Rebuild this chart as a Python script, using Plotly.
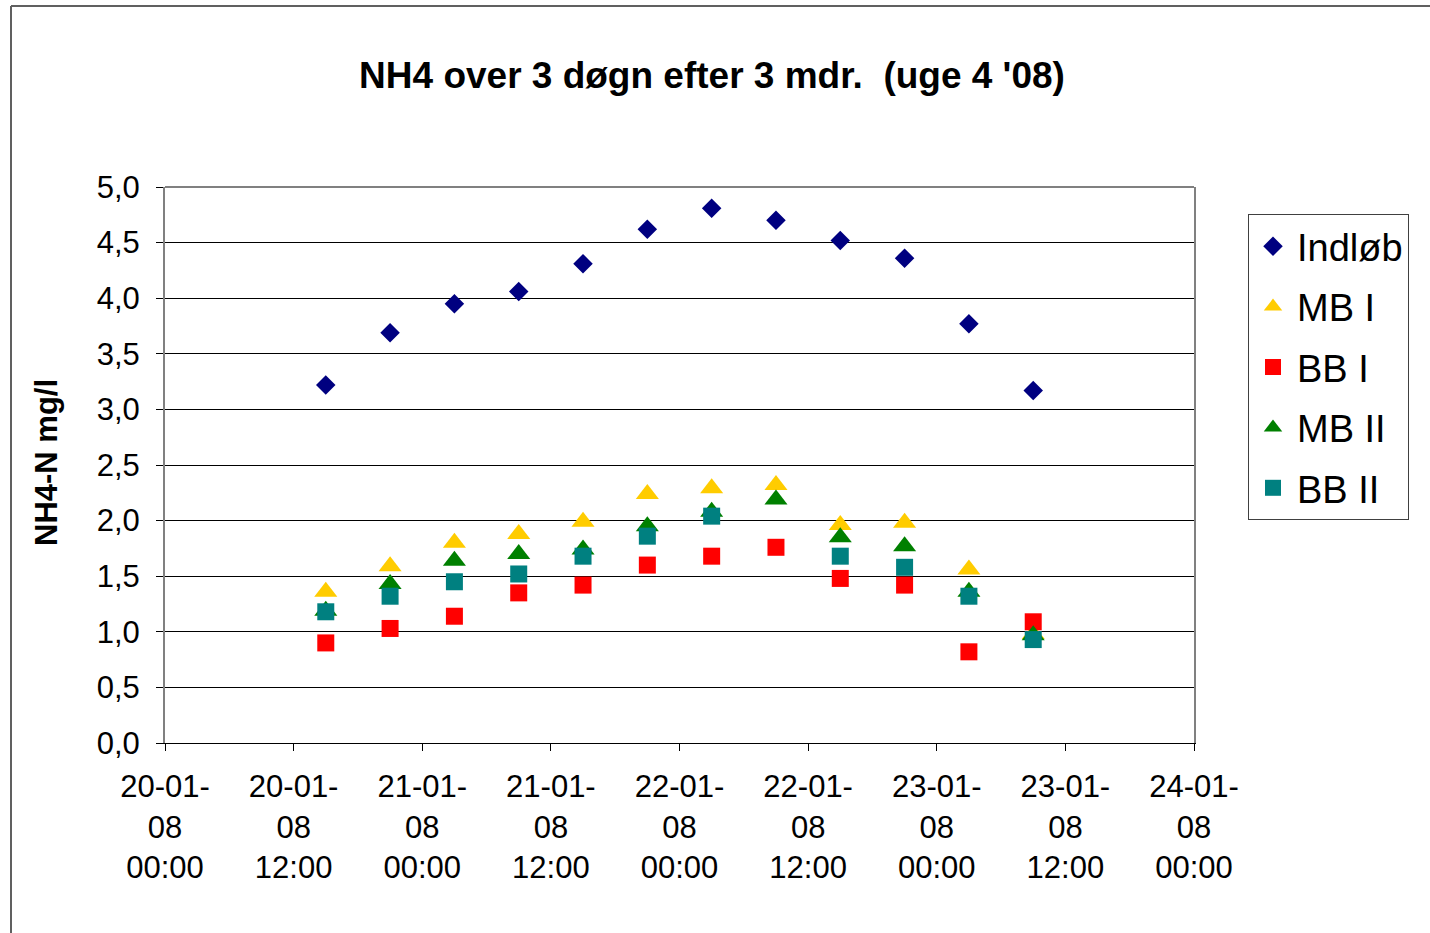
import plotly.graph_objects as go

times = ["2008-01-20 15:00", "2008-01-20 21:00", "2008-01-21 03:00", "2008-01-21 09:00",
         "2008-01-21 15:00", "2008-01-21 21:00", "2008-01-22 03:00", "2008-01-22 09:00",
         "2008-01-22 15:00", "2008-01-22 21:00", "2008-01-23 03:00", "2008-01-23 09:00"]

indlob = [3.22, 3.69, 3.95, 4.06, 4.31, 4.62, 4.81, 4.70, 4.52, 4.36, 3.77, 3.17]
mb1 = [1.36, 1.59, 1.80, 1.88, 1.99, 2.24, 2.29, 2.32, 1.96, 1.98, 1.56, 0.98]
bb1 = [0.90, 1.03, 1.14, 1.35, 1.42, 1.60, 1.68, 1.76, 1.48, 1.42, 0.82, 1.09]
mb2 = [1.19, 1.43, 1.64, 1.70, 1.74, 1.95, 2.08, 2.19, 1.85, 1.77, 1.36, 0.97]
bb2 = [1.18, 1.32, 1.45, 1.52, 1.68, 1.86, 2.04, None, 1.68, 1.58, 1.32, 0.93]

tick_vals = ["2008-01-20 00:00", "2008-01-20 12:00", "2008-01-21 00:00", "2008-01-21 12:00",
             "2008-01-22 00:00", "2008-01-22 12:00", "2008-01-23 00:00", "2008-01-23 12:00",
             "2008-01-24 00:00"]
tick_text = ["20-01-<br>08<br>00:00", "20-01-<br>08<br>12:00", "21-01-<br>08<br>00:00",
             "21-01-<br>08<br>12:00", "22-01-<br>08<br>00:00", "22-01-<br>08<br>12:00",
             "23-01-<br>08<br>00:00", "23-01-<br>08<br>12:00", "24-01-<br>08<br>00:00"]

series = [
    ("Indløb", indlob, "diamond", "#000080", 15),
    ("MB I", mb1, "triangle-up", "#FFCC00", 20),
    ("BB I", bb1, "square", "#FF0000", 17),
    ("MB II", mb2, "triangle-up", "#008000", 20),
    ("BB II", bb2, "square", "#008080", 17),
]

FONT = "Liberation Sans, Arial, sans-serif"

fig = go.Figure()
for i, (name, vals, sym, col, sz) in enumerate(series):
    fig.add_trace(go.Scatter(
        x=times, y=vals, mode="markers", name=name, legendgroup=str(i),
        marker=dict(symbol=sym, color=col, size=sz, line=dict(width=0)),
    ))

W, H = 1430, 933
L, R, T, B = 165, 1194, 187, 743
pw, ph = R - L, B - T

def px(x):
    return (x - L) / pw

def py(y):
    return (B - y) / ph

fig.update_layout(
    width=W, height=H,
    margin=dict(l=L, r=W - R, t=T, b=H - B),
    paper_bgcolor="white", plot_bgcolor="white",
    separators=",.",
    font=dict(family=FONT, color="black"),
    title=dict(text="<b>NH4 over 3 døgn efter 3 mdr. \u00a0(uge 4 '08)</b>",
               x=px(712), xref="paper", xanchor="center",
               y=1 - 75 / H, yref="container", yanchor="middle",
               font=dict(size=37, family=FONT, color="black")),
    legend=dict(x=px(1248), y=py(214), xanchor="left", yanchor="top",
                bordercolor="#404040", borderwidth=1, bgcolor="white",
                font=dict(size=38, family=FONT, color="black"),
                traceorder="grouped", tracegroupgap=8,
                itemwidth=38),
    showlegend=True,
)

fig.update_xaxes(
    type="date", range=["2008-01-20 00:00", "2008-01-24 00:00"],
    tickmode="array", tickvals=tick_vals, ticktext=tick_text,
    showgrid=False, zeroline=False,
    showline=True, linecolor="black", linewidth=1,
    ticks="outside", ticklen=7, tickcolor="black", tickwidth=1,
    ticklabelstandoff=9,
    tickfont=dict(size=31, family=FONT, color="black"),
)
fig.update_yaxes(
    range=[0, 5], dtick=0.5, tick0=0, tickformat=".1f",
    showgrid=True, gridcolor="black", gridwidth=1, zeroline=False,
    showline=True, linecolor="#808080", linewidth=2, mirror=True,
    ticks="outside", ticklen=7, tickcolor="black", tickwidth=1,
    ticklabelstandoff=10,
    tickfont=dict(size=31, family=FONT, color="black"),
)

fig.add_annotation(
    text="<b>NH4-N mg/l</b>", textangle=-90,
    x=px(46), y=py(463), xref="paper", yref="paper",
    xanchor="center", yanchor="middle", showarrow=False,
    font=dict(size=31, family=FONT, color="black"),
)

# top border of plot area (grey)
fig.add_shape(type="line", xref="paper", yref="paper", x0=0, x1=1, y0=1, y1=1,
              line=dict(color="#808080", width=2))
# outer chart frame
fig.add_shape(type="line", xref="paper", yref="paper",
              x0=px(11), x1=px(11), y0=py(6), y1=py(940),
              line=dict(color="#606060", width=2))
fig.add_shape(type="line", xref="paper", yref="paper",
              x0=px(11), x1=px(1440), y0=py(6), y1=py(6),
              line=dict(color="#606060", width=2))

fig.write_html("out.html")
